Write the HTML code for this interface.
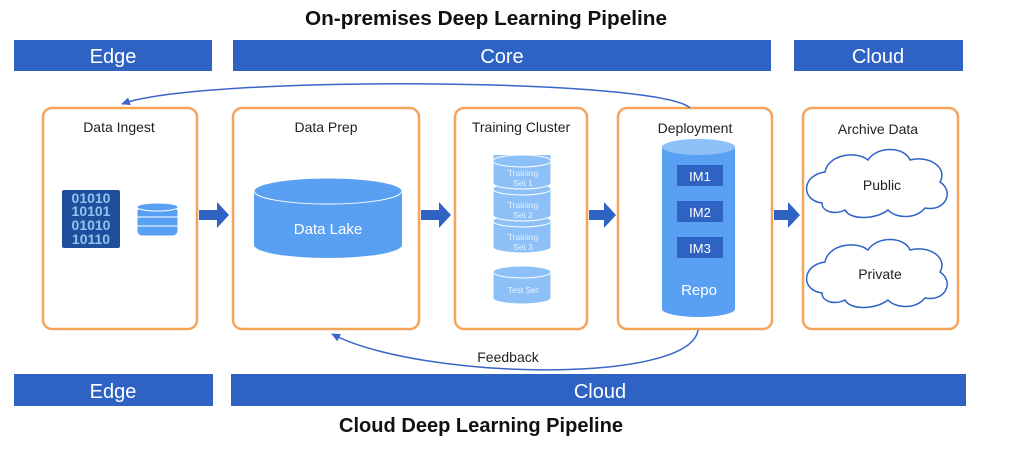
<!DOCTYPE html>
<html><head><meta charset="utf-8"><style>
html,body{margin:0;padding:0;background:#fff;width:1024px;height:461px;overflow:hidden}
svg{display:block}
text{font-family:"Liberation Sans",Arial,sans-serif}
</style></head><body>
<svg width="1024" height="461" viewBox="0 0 1024 461" xmlns="http://www.w3.org/2000/svg">
<defs>
<marker id="ah" markerWidth="10" markerHeight="8" refX="8" refY="4" orient="auto" markerUnits="userSpaceOnUse">
<path d="M0,0 L9,4 L0,8 z" fill="#3a66c8"/></marker>
</defs>
<text x="486" y="25" font-size="20" font-weight="bold" text-anchor="middle" fill="#111" textLength="362" lengthAdjust="spacingAndGlyphs">On-premises Deep Learning Pipeline</text>
<g fill="#2e63c4">
<rect x="14" y="40" width="198" height="31"/><rect x="233" y="40" width="538" height="31"/><rect x="794" y="40" width="169" height="31"/>
<rect x="14" y="374" width="199" height="32"/><rect x="231" y="374" width="735" height="32"/>
</g>
<g fill="#fff" font-size="20" text-anchor="middle">
<text x="113" y="63">Edge</text><text x="502" y="63">Core</text><text x="878" y="63">Cloud</text>
<text x="113" y="398">Edge</text><text x="600" y="398">Cloud</text>
</g>
<text x="481" y="432" font-size="20" font-weight="bold" text-anchor="middle" fill="#111" textLength="284" lengthAdjust="spacingAndGlyphs">Cloud Deep Learning Pipeline</text>
<g fill="#fff" stroke="#f5a45a" stroke-width="2.5">
<rect x="43" y="108" width="154" height="221" rx="9"/>
<rect x="233" y="108" width="186" height="221" rx="9"/>
<rect x="455" y="108" width="132" height="221" rx="9"/>
<rect x="618" y="108" width="154" height="221" rx="9"/>
<rect x="803" y="108" width="155" height="221" rx="9"/>
</g>
<g font-size="14" text-anchor="middle" fill="#222">
<text x="119" y="132">Data Ingest</text><text x="326" y="132">Data Prep</text>
<text x="521" y="132">Training Cluster</text><text x="695" y="133">Deployment</text>
<text x="878" y="134">Archive Data</text>
</g>
<path d="M690,108 C660,78 200,75 122,104" fill="none" stroke="#3a66c8" stroke-width="1.5" marker-end="url(#ah)"/>
<path d="M698,330 C690,385 420,380 332,334" fill="none" stroke="#3a66c8" stroke-width="1.5" marker-end="url(#ah)"/>
<text x="508" y="362" font-size="14" text-anchor="middle" fill="#222">Feedback</text>
<g fill="#2e63c4">
<path d="M199,210 h18 v-8 l12,13 l-12,13 v-8 h-18z"/>
<path d="M421,210 h18 v-8 l12,13 l-12,13 v-8 h-18z"/>
<path d="M589,210 h15 v-8 l12,13 l-12,13 v-8 h-15z"/>
<path d="M774,210 h14 v-8 l12,13 l-12,13 v-8 h-14z"/>
</g>
<rect x="62" y="190" width="58" height="58" rx="2" fill="#1f4f9c"/>
<g fill="#8fc4ee" font-size="14" font-weight="bold" text-anchor="middle">
<text x="91" y="203">01010</text><text x="91" y="216">10101</text><text x="91" y="230">01010</text><text x="91" y="244">10110</text>
</g>
<g fill="#5aa0f2" stroke="#fff" stroke-width="1">
<rect x="137" y="207" width="41" height="29" rx="5"/>
<ellipse cx="157.5" cy="207" rx="20.5" ry="4"/>
<line x1="137" y1="217" x2="178" y2="217"/><line x1="137" y1="226" x2="178" y2="226"/>
</g>
<path d="M254,191 v54 a74,13 0 0 0 148,0 v-54z" fill="#5aa0f2"/>
<ellipse cx="328" cy="191" rx="74" ry="13" fill="#5aa0f2" stroke="#fff" stroke-width="1"/>
<text x="328" y="234" font-size="15" fill="#fff" text-anchor="middle">Data Lake</text>
<g fill="#8cc0f7" stroke="#fff" stroke-width="1">
<path d="M493,219 v28 a29,6 0 0 0 58,0 v-28"/><ellipse cx="522" cy="221" rx="29" ry="6"/>
<path d="M493,187 v28 a29,6 0 0 0 58,0 v-28"/><ellipse cx="522" cy="189" rx="29" ry="6"/>
<path d="M493,155 v28 a29,6 0 0 0 58,0 v-28"/><ellipse cx="522" cy="161" rx="29" ry="6"/>
<path d="M493,272 v26 a29,6 0 0 0 58,0 v-26"/><ellipse cx="522" cy="272" rx="29" ry="6"/>
</g>
<g fill="#e8f2ff" font-size="8.5" text-anchor="middle">
<text x="523" y="176">Training</text><text x="523" y="186">Set 1</text>
<text x="523" y="208">Training</text><text x="523" y="218">Set 2</text>
<text x="523" y="240">Training</text><text x="523" y="250">Set 3</text>
<text x="523" y="293">Test Set</text>
</g>
<path d="M662,147 v162 a36.5,8 0 0 0 73,0 v-162z" fill="#5aa0f2"/>
<ellipse cx="698.5" cy="147" rx="36.5" ry="8" fill="#8cc0f7"/>
<g fill="#2e63c4"><rect x="677" y="165" width="46" height="21"/><rect x="677" y="201" width="46" height="21"/><rect x="677" y="237" width="46" height="21"/></g>
<g fill="#fff" font-size="13" text-anchor="middle">
<text x="700" y="181">IM1</text><text x="700" y="217">IM2</text><text x="700" y="253">IM3</text>
<text x="699" y="295" font-size="15">Repo</text>
</g>
<g fill="#fff" stroke="#2e63c4" stroke-width="1.5">
<path d="M822,203 C800,200 802,175 825,172 C828,155 855,150 868,160 C878,145 905,147 910,160 C930,155 948,168 940,182 C955,192 945,212 925,208 C915,220 895,218 888,210 C875,220 850,220 845,210 C835,215 822,212 822,203z"/>
<path d="M822,293 C800,290 802,265 825,262 C828,245 855,240 868,250 C878,235 905,237 910,250 C930,245 948,258 940,272 C955,282 945,302 925,298 C915,310 895,308 888,300 C875,310 850,310 845,300 C835,305 822,302 822,293z"/>
</g>
<g font-size="14" text-anchor="middle" fill="#222">
<text x="882" y="190">Public</text><text x="880" y="279">Private</text>
</g>
</svg>
</body></html>
